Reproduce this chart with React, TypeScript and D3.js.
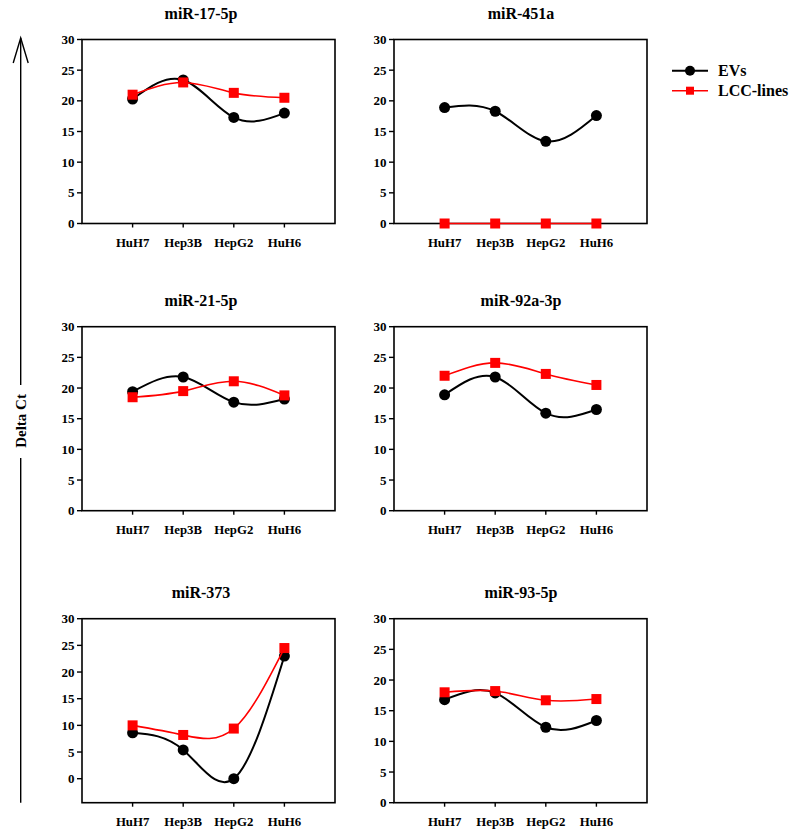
import React from "react";
import * as d3 from "d3";

const categories = ["HuH7", "Hep3B", "HepG2", "HuH6"];
const panelTitles = ["miR-17-5p", "miR-451a", "miR-21-5p", "miR-92a-3p", "miR-373", "miR-93-5p"];
const evsValues = [
  [20.3, 23.4, 17.3, 18.0],
  [18.9, 18.3, 13.4, 17.6],
  [19.4, 21.8, 17.7, 18.2],
  [18.9, 21.8, 15.9, 16.5],
  [8.6, 5.4, 0.0, 23.0],
  [16.8, 17.9, 12.3, 13.4],
];
const lccValues = [
  [21.0, 23.0, 21.3, 20.5],
  [0, 0, 0, 0],
  [18.5, 19.5, 21.1, 18.8],
  [22.0, 24.1, 22.3, 20.5],
  [10.0, 8.2, 9.4, 24.5],
  [18.0, 18.2, 16.7, 16.9],
];
const yDomains: [number, number][] = [
  [0, 30], [0, 30], [0, 30], [0, 30], [-4.5, 30], [0, 30],
];
const yTicks = [0, 5, 10, 15, 20, 25, 30];
const seriesNames = ["EVs", "LCC-lines"];
const axisTitle = "Delta Ct";

const FONT = "'Liberation Serif', 'Times New Roman', serif";
const RED = "#ff0000";

const colX = [82, 394];
const rowY = [39.5, 326.7, 618.7];
const PW = 253;
const PH = 184;
const titleCx = [201, 521];

function Panel({ idx }: { idx: number }) {
  const col = idx % 2;
  const row = Math.floor(idx / 2);
  const x0 = colX[col];
  const y0 = rowY[row];
  const x = d3.scaleLinear().domain([0, categories.length + 1]).range([x0, x0 + PW]);
  const y = d3.scaleLinear().domain(yDomains[idx]).range([y0 + PH, y0]);
  const line = d3
    .line<number>()
    .x((_, i) => x(i + 1))
    .y((d) => y(d))
    .curve(d3.curveNatural);
  const ev = evsValues[idx];
  const lc = lccValues[idx];
  return (
    <g>
      <text x={titleCx[col]} y={y0 - 20.5} textAnchor="middle" fontFamily={FONT} fontWeight="bold" fontSize={16}>
        {panelTitles[idx]}
      </text>
      <rect x={x0} y={y0} width={PW} height={PH} fill="none" stroke="#000" strokeWidth={1.6} />
      {yTicks.map((t) => (
        <g key={t}>
          <line x1={x0 - 5} x2={x0} y1={y(t)} y2={y(t)} stroke="#000" strokeWidth={1.4} />
          <text x={x0 - 7.5} y={y(t) + 4.6} textAnchor="end" fontFamily={FONT} fontWeight="bold" fontSize={13}>
            {t}
          </text>
        </g>
      ))}
      {categories.map((c, i) => (
        <g key={c}>
          <line x1={x(i + 1)} x2={x(i + 1)} y1={y0 + PH} y2={y0 + PH + 4} stroke="#000" strokeWidth={1.4} />
          <text x={x(i + 1)} y={y0 + PH + 23} textAnchor="middle" fontFamily={FONT} fontWeight="bold" fontSize={12.8}>
            {c}
          </text>
        </g>
      ))}
      <path d={line(ev) || ""} fill="none" stroke="#000" strokeWidth={2} />
      {ev.map((v, i) => (
        <circle key={i} cx={x(i + 1)} cy={y(v)} r={5.5} fill="#000" />
      ))}
      <path d={line(lc) || ""} fill="none" stroke={RED} strokeWidth={1.6} />
      {lc.map((v, i) => (
        <rect key={i} x={x(i + 1) - 5} y={y(v) - 5} width={10} height={10} fill={RED} />
      ))}
    </g>
  );
}

export default function App() {
  const ax = 20.7;
  const top = 38;
  const bottom = 802.7;
  const textCy = 421;
  return (
    <svg width={800} height={839} style={{ position: "absolute", left: 0, top: 0, background: "#fff" }}>
      <rect width={800} height={839} fill="#fff" />
      {panelTitles.map((_, i) => (
        <Panel key={i} idx={i} />
      ))}
      <line x1={ax} x2={ax} y1={top} y2={textCy - 36} stroke="#000" strokeWidth={1.4} />
      <line x1={ax} x2={ax} y1={textCy + 37} y2={bottom} stroke="#000" strokeWidth={1.4} />
      <polyline points={`${ax - 7.5},${top + 25} ${ax},${top} ${ax + 7.5},${top + 25}`} fill="none" stroke="#000" strokeWidth={1.4} />
      <text
        transform={`translate(${ax + 5},${textCy}) rotate(-90)`}
        textAnchor="middle"
        fontFamily={FONT}
        fontWeight="bold"
        fontSize={15}
      >
        {axisTitle}
      </text>
      <line x1={672} x2={708} y1={70.7} y2={70.7} stroke="#000" strokeWidth={2} />
      <circle cx={690} cy={70.7} r={5} fill="#000" />
      <text x={718} y={76} fontFamily={FONT} fontWeight="bold" fontSize={16}>
        {seriesNames[0]}
      </text>
      <line x1={672} x2={708} y1={90.7} y2={90.7} stroke={RED} strokeWidth={1.6} />
      <rect x={686} y={86.7} width={8} height={8} fill={RED} />
      <text x={718} y={96} fontFamily={FONT} fontWeight="bold" fontSize={16}>
        {seriesNames[1]}
      </text>
    </svg>
  );
}
